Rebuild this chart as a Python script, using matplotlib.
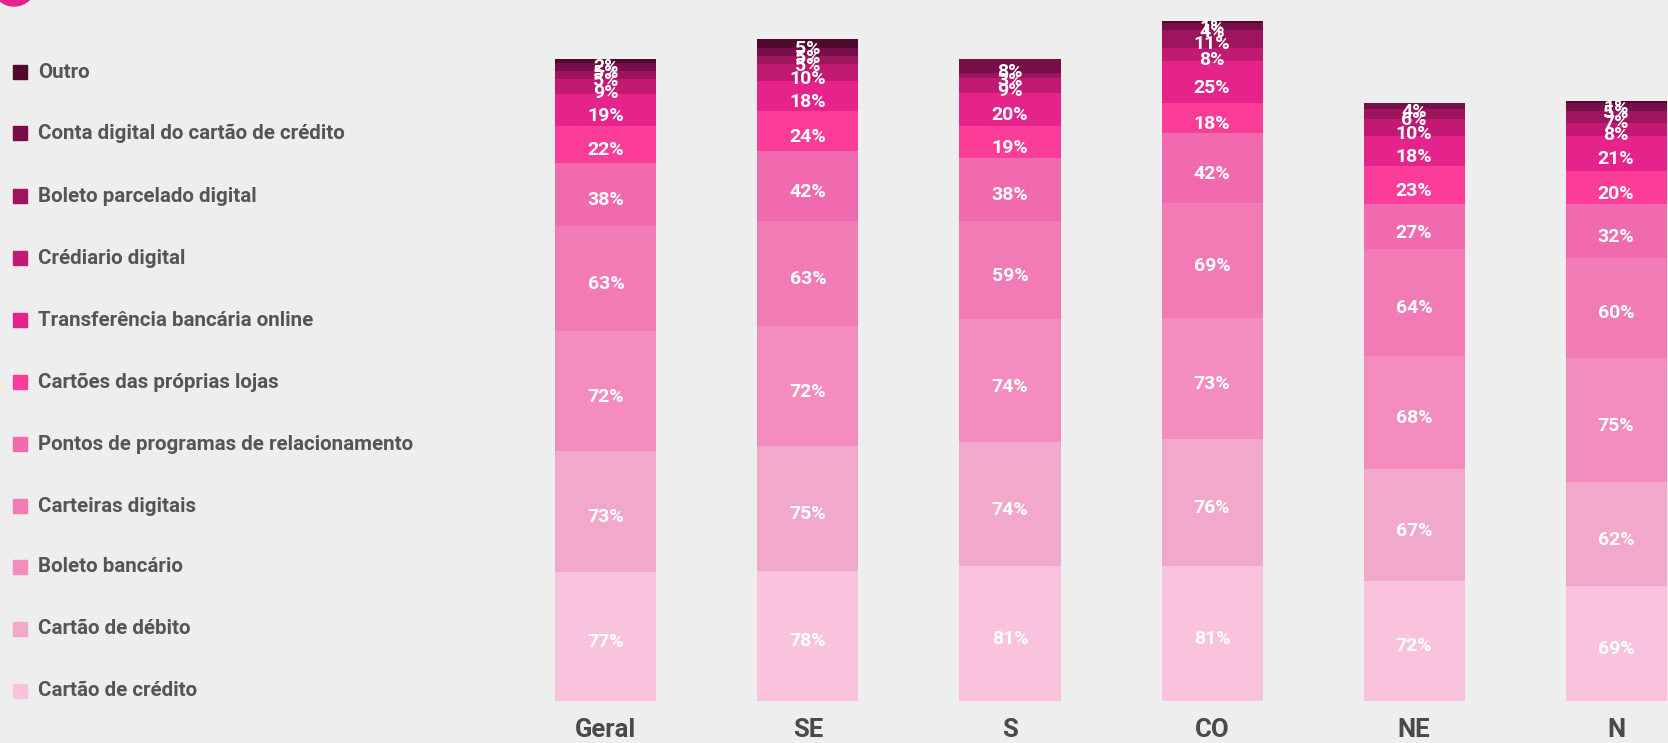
import matplotlib
matplotlib.use("Agg")
import matplotlib.pyplot as plt
from matplotlib import font_manager
from matplotlib.patches import Ellipse, Rectangle

names = {f.name for f in font_manager.fontManager.ttflist}
FONT = "Liberation Sans Narrow" if "Liberation Sans Narrow" in names else "Roboto"

regions = ["Geral", "SE", "S", "CO", "NE", "N"]
series = ["Cartão de crédito", "Cartão de débito", "Boleto bancário", "Carteiras digitais",
          "Pontos de programas de relacionamento", "Cartões das próprias lojas",
          "Transferência bancária online", "Crédiario digital", "Boleto parcelado digital",
          "Conta digital do cartão de crédito", "Outro"]
# values per series (bottom to top), one entry per region
cartao_credito = [77, 78, 81, 81, 72, 69]
cartao_debito = [73, 75, 74, 76, 67, 62]
boleto_bancario = [72, 72, 74, 73, 68, 75]
carteiras_digitais = [63, 63, 59, 69, 64, 60]
pontos_programas = [38, 42, 38, 42, 27, 32]
cartoes_lojas = [22, 24, 19, 18, 23, 20]
transferencia = [19, 18, 20, 25, 18, 21]
crediario_digital = [9, 10, 9, 8, 10, 8]
boleto_parcelado = [5, 5, 3, 11, 6, 7]
conta_digital = [5, 5, 8, 4, 4, 5]
outro = [2, 5, 0, 1, 0, 1]
values = [cartao_credito, cartao_debito, boleto_bancario, carteiras_digitais,
          pontos_programas, cartoes_lojas, transferencia, crediario_digital,
          boleto_parcelado, conta_digital, outro]
colors = ["#fac3dd", "#f1a8cb", "#f48cbf", "#f27bb5", "#f16aad", "#fb3d99",
          "#e6238a", "#c21a72", "#9e145d", "#780e47", "#52082d"]

W, H = 1668, 743
fig = plt.figure(figsize=(W / 100, H / 100), dpi=100)
fig.patch.set_facecolor("#eeeeee")

base_px = 700.5
ppu = 1.665
ax = fig.add_axes([0, (H - base_px) / H, 1, base_px / H])
ax.set_facecolor("none")
ax.set_xlim(-3.0, (W - 606) / 202)
ax.set_ylim(0, base_px / ppu)
ax.axis("off")

x = list(range(len(regions)))
bottoms = [0] * len(regions)
for vals, col in zip(values, colors):
    ax.bar(x, vals, width=0.5, bottom=bottoms, color=col, edgecolor="none")
    for i, v in enumerate(vals):
        if v > 0:
            ax.text(x[i], bottoms[i] + v / 2 - 3.5, f"{v}%", ha="center", va="center",
                    color="white", fontsize=14, fontweight="bold", family=FONT)
    bottoms = [b + v for b, v in zip(bottoms, vals)]

for i, r in enumerate(regions):
    ax.text(x[i], -18, r, ha="center", va="center", color="#4a4a4a",
            fontsize=18.5, fontweight="bold", family=FONT, clip_on=False)

# legend
ys = [72, 133, 196, 258, 320, 382, 444, 506, 567, 629, 691]
leg_order = list(range(len(series)))[::-1]
for y, idx in zip(ys, leg_order):
    fig.patches.append(Rectangle((13 / W, 1 - (y + 7) / H), 14 / W, 14 / H,
                                 transform=fig.transFigure, color=colors[idx]))
    fig.text(38 / W, 1 - y / H, series[idx], ha="left", va="center", color="#555555",
             fontsize=14.8, fontweight="bold", family=FONT)

# decorative circle at top-left
fig.patches.append(Ellipse((14 / W, 1 + 16 / H), 44 / W, 44 / H,
                           transform=fig.transFigure, color="#e6238a"))

fig.savefig("out.png", dpi=100, facecolor=fig.get_facecolor())
